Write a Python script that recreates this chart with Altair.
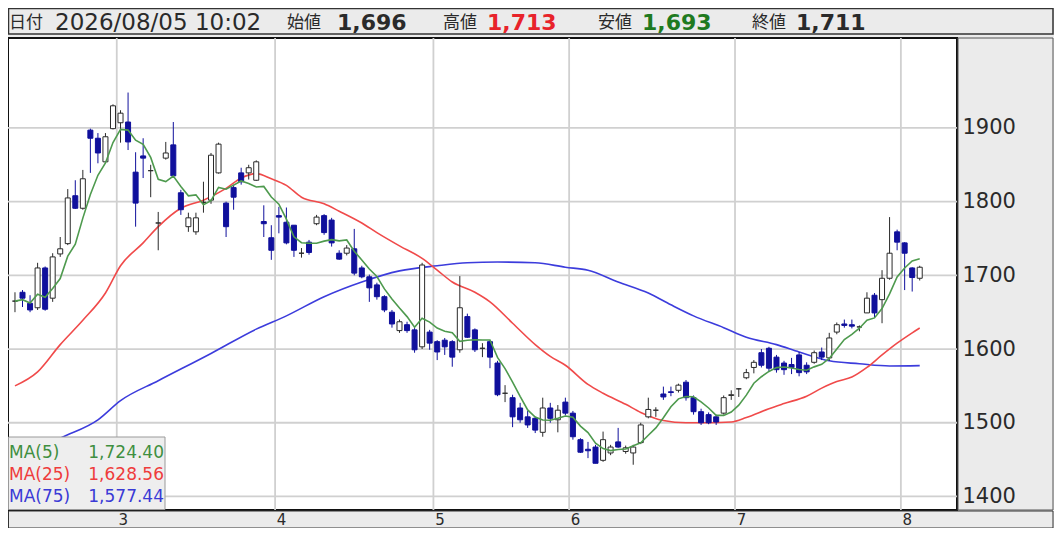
import json

import altair as alt
import numpy as np
import pandas as pd

alt.data_transformers.disable_max_rows()

# daily candles, 2026-02 (tail) .. 2026-08-05
opens = [
    1665, 1677, 1662, 1656, 1710, 1669, 1729, 1743, 1808, 1791,
    1897, 1886, 1854, 1899, 1907, 1908, 1840, 1862, 1842, 1771,
    1859, 1877, 1812, 1766, 1759, 1799, 1802, 1839, 1798, 1819,
    1839, 1839, 1829, 1773, 1751, 1781, 1772, 1768, 1730, 1745,
    1770, 1781, 1775, 1730, 1730, 1736, 1710, 1698, 1687, 1671,
    1650, 1625, 1633, 1626, 1603, 1623, 1610, 1612, 1610, 1599,
    1644, 1626, 1601, 1610, 1581, 1540, 1534, 1520, 1508, 1506,
    1487, 1520, 1504, 1528, 1513, 1477, 1464, 1467, 1449, 1459,
    1474, 1461, 1459, 1473, 1508, 1517, 1539, 1542, 1544, 1555,
    1534, 1515, 1511, 1508, 1513, 1537, 1546, 1561, 1575, 1595,
    1601, 1589, 1581, 1579, 1592, 1578, 1582, 1596, 1588, 1623,
    1634, 1633, 1630, 1649, 1673, 1667, 1696, 1759, 1744, 1710,
    1696,
]
highs = [
    1677, 1680, 1673, 1717, 1712, 1730, 1752, 1817, 1829, 1843,
    1899, 1893, 1893, 1932, 1924, 1948, 1867, 1886, 1850, 1786,
    1881, 1908, 1816, 1785, 1785, 1827, 1866, 1880, 1800, 1823,
    1846, 1850, 1856, 1795, 1768, 1793, 1792, 1768, 1737, 1748,
    1782, 1783, 1778, 1734, 1741, 1763, 1713, 1701, 1690, 1673,
    1653, 1640, 1637, 1629, 1717, 1626, 1612, 1615, 1612, 1699,
    1648, 1628, 1608, 1612, 1584, 1551, 1538, 1527, 1516, 1508,
    1534, 1527, 1524, 1534, 1516, 1479, 1474, 1470, 1488, 1470,
    1493, 1469, 1470, 1500, 1534, 1521, 1549, 1549, 1553, 1558,
    1537, 1519, 1514, 1511, 1537, 1544, 1547, 1573, 1585, 1600,
    1603, 1592, 1584, 1588, 1596, 1582, 1598, 1602, 1622, 1636,
    1640, 1640, 1632, 1677, 1676, 1707, 1779, 1762, 1745, 1711,
    1713,
]
lows = [
    1650, 1657, 1650, 1653, 1652, 1664, 1725, 1741, 1790, 1789,
    1839, 1852, 1852, 1898, 1880, 1870, 1766, 1832, 1806, 1734,
    1857, 1834, 1782, 1759, 1755, 1785, 1797, 1838, 1752, 1789,
    1823, 1830, 1828, 1752, 1721, 1757, 1742, 1725, 1724, 1728,
    1768, 1755, 1739, 1721, 1727, 1700, 1696, 1664, 1667, 1650,
    1629, 1622, 1622, 1595, 1600, 1599, 1585, 1592, 1576, 1595,
    1615, 1596, 1589, 1574, 1536, 1528, 1494, 1500, 1493, 1486,
    1481, 1500, 1487, 1510, 1477, 1459, 1452, 1445, 1447, 1456,
    1466, 1458, 1443, 1471, 1506, 1508, 1531, 1536, 1541, 1530,
    1511, 1497, 1498, 1497, 1511, 1531, 1535, 1559, 1567, 1575,
    1570, 1568, 1565, 1566, 1563, 1566, 1580, 1585, 1584, 1620,
    1629, 1628, 1624, 1649, 1643, 1635, 1694, 1734, 1680, 1678,
    1693,
]
closes = [
    1665, 1669, 1653, 1710, 1654, 1725, 1736, 1805, 1791, 1831,
    1886, 1866, 1888, 1930, 1920, 1881, 1798, 1859, 1842, 1771,
    1866, 1835, 1789, 1778, 1778, 1799, 1863, 1878, 1766, 1806,
    1827, 1846, 1854, 1770, 1734, 1779, 1744, 1734, 1730, 1731,
    1779, 1758, 1744, 1722, 1737, 1703, 1698, 1683, 1671, 1653,
    1634, 1637, 1625, 1599, 1714, 1608, 1596, 1603, 1589, 1656,
    1616, 1599, 1601, 1589, 1538, 1540, 1508, 1504, 1497, 1490,
    1520, 1506, 1517, 1513, 1481, 1460, 1462, 1445, 1477, 1467,
    1467, 1466, 1467, 1497, 1518, 1517, 1535, 1541, 1551, 1534,
    1515, 1500, 1500, 1501, 1534, 1538, 1546, 1568, 1582, 1578,
    1574, 1572, 1572, 1575, 1568, 1569, 1595, 1589, 1615, 1633,
    1632, 1631, 1630, 1669, 1649, 1696, 1730, 1745, 1730, 1697,
    1711,
]

# moving averages (candle index, price)
ma25_idx = [0, 3, 6, 9, 12, 14, 17, 19, 22, 25, 28, 30, 32, 34, 36, 38, 41, 43,
            46, 48, 51, 54, 56, 58, 61, 63, 66, 69, 71, 73, 76, 78, 81, 83, 86,
            89, 92, 95, 97, 100, 102, 105, 107, 109, 111, 113, 115, 117, 119, 120]
ma25_val = [1550, 1569, 1606, 1639, 1676, 1713, 1744, 1766, 1791, 1802, 1818,
            1832, 1838, 1831, 1822, 1806, 1797, 1787, 1771, 1758, 1740, 1723,
            1707, 1691, 1677, 1664, 1635, 1606, 1590, 1578, 1552, 1540, 1525,
            1514, 1503, 1500, 1500, 1501, 1507, 1519, 1526, 1536, 1547, 1556,
            1562, 1575, 1592, 1608, 1622, 1628.56]
ma75_idx = [0, 6, 11, 14, 19, 26, 32, 36, 41, 46, 51, 56, 60, 64, 69, 73, 76,
            80, 84, 87, 90, 94, 97, 101, 104, 108, 112, 116, 120]
ma75_val = [1445, 1479, 1504, 1530, 1557, 1594, 1627, 1645, 1671, 1691, 1706,
            1713, 1717, 1718, 1717, 1711, 1707, 1691, 1676, 1660, 1645, 1629,
            1616, 1606, 1596, 1584, 1580, 1577, 1577.44]

month_bounds = [13.5, 34.5, 55.5, 73.5, 95.5, 117.5]
month_labels = ["3", "4", "5", "6", "7", "8"]
price_ticks = [1400, 1500, 1600, 1700, 1800, 1900]

legend_names = ["MA(5)", "MA(25)", "MA(75)"]
legend_values = ["1,724.40", "1,628.56", "1,577.44"]

header_keys = ["日付", "始値", "高値", "安値", "終値"]
header_vals = ["2026/08/05 10:02", "1,696", "1,713", "1,693", "1,711"]

# --- styling / layout -------------------------------------------------------
BLUE = "#10109c"
INK = "#2a2a2a"
GREEN = "#4e9a4e"
RED = "#f04a4a"
MA_BLUE = "#3c3cdc"
PANEL = "#ebebeb"
GRID = "#d0d0d0"
NUM_FONT = "DejaVu Sans"
JP_FONT = "Noto Sans CJK JP"

W, H = 949, 472
TOP = 30
xs = alt.Scale(domain=[-0.262, 124.28], nice=False, zero=False)
ys = alt.Scale(domain=[1381.6, 2022], nice=False, zero=False)

df = pd.DataFrame({"i": np.arange(len(closes)), "open": opens, "high": highs,
                   "low": lows, "close": closes})
df["dir"] = np.where(df["close"] >= df["open"], "up", "down")

one = pd.DataFrame({"k": [0]})


def box(x, x2, y, y2, fill=None, stroke=None, sw=1.0):
    if fill is None:
        mark = alt.Chart(one).mark_rect(filled=False, stroke=stroke, strokeWidth=sw)
    else:
        kw = {"fill": fill}
        if stroke:
            kw.update(stroke=stroke, strokeWidth=sw)
        mark = alt.Chart(one).mark_rect(**kw)
    return mark.encode(x=alt.value(x), x2=alt.value(x2), y=alt.value(y), y2=alt.value(y2))


def label(text, x, y, color=INK, size=16, font=NUM_FONT, weight="normal",
          align="left"):
    return alt.Chart(one).mark_text(
        align=align, baseline="middle", font=font, fontSize=size,
        fontWeight=weight, color=color,
    ).encode(x=alt.value(x), y=alt.value(y), text=alt.value(text))


# the same axis spec goes on every layer so the merged axes stay enabled
x_axis = alt.Axis(
    values=month_bounds, grid=False, ticks=False, domain=False,
    labelExpr=f"{json.dumps(month_labels)}[indexof({json.dumps(month_bounds)}, datum.value)]",
    labelOffset=6, labelPadding=2, labelFontSize=15, labelFont=NUM_FONT,
    labelColor=INK, labelFlush=False, labelOverlap=False, title=None,
)
y_axis = alt.Axis(
    orient="right", values=price_ticks, format="d", grid=False, ticks=False,
    domain=False, labelFontSize=21, labelFont=NUM_FONT, labelColor=INK,
    labelPadding=5, labelAlign="left", title=None,
)


def X(field):
    return alt.X(field, scale=xs, axis=x_axis, title=None)


def Y(field):
    return alt.Y(field, scale=ys, axis=y_axis, title=None)


frames = [
    box(0.5, 1045, -TOP + 0.5, -4, None, "#333", 1.5),   # header bar
    box(0.5, 1045, H + 1, H + 18, None, "#333", 1),      # month strip
    box(W + 1, 1045, 0, H, None, "#555", 1),             # price panel
]

vgrid = alt.Chart(pd.DataFrame({"b": month_bounds})).mark_rule(
    color=GRID, strokeWidth=1.8
).encode(x=X("b:Q"))
hgrid = alt.Chart(pd.DataFrame({"p": price_ticks})).mark_rule(
    color=GRID, strokeWidth=1.8
).encode(y=Y("p:Q"))

dir_dom = ["up", "down"]

wick = alt.Chart(df).mark_rule(strokeWidth=1).encode(
    x=X("i:Q"),
    y=Y("low:Q"),
    y2="high:Q",
    color=alt.Color("dir:N", scale=alt.Scale(domain=dir_dom, range=[INK, BLUE]), legend=None),
)
body = alt.Chart(df).mark_bar(size=5, strokeWidth=1).encode(
    x=X("i:Q"),
    y=Y("open:Q"),
    y2="close:Q",
    fill=alt.Fill("dir:N", scale=alt.Scale(domain=dir_dom, range=["#ffffff", BLUE]), legend=None),
    stroke=alt.Stroke("dir:N", scale=alt.Scale(domain=dir_dom, range=[INK, BLUE]), legend=None),
)

ma5 = alt.Chart(df).transform_window(
    ma5="mean(close)", frame=[-4, 0], sort=[{"field": "i"}]
).mark_line(color=GREEN, strokeWidth=1.6).encode(x=X("i:Q"), y=Y("ma5:Q"))
ma25 = alt.Chart(pd.DataFrame({"i": ma25_idx, "v": ma25_val})).mark_line(
    color=RED, strokeWidth=1.6, interpolate="monotone"
).encode(x=X("i:Q"), y=Y("v:Q"))
ma75 = alt.Chart(pd.DataFrame({"i": ma75_idx, "v": ma75_val})).mark_line(
    color=MA_BLUE, strokeWidth=1.6, interpolate="monotone"
).encode(x=X("i:Q"), y=Y("v:Q"))

legend_layers = [box(0.5, 157, 399, H - 0.5, "#eeeeee", "#9a9a9a", 1)]
for k, (name, val, col) in enumerate(zip(legend_names, legend_values,
                                         ["#3f8f3f", "#ee3c3c", "#3a3ad6"])):
    yy = 415 + 22 * k
    legend_layers.append(label(name, 1, yy, col, 17))
    legend_layers.append(label(val, 156, yy, col, 17, align="right"))

key_x = [1, 279, 435, 590, 744]
val_x = [47, 329, 479, 634, 788]
val_col = [INK, INK, "#e8232a", "#1f7a1f", INK]
header_layers = []
for k, (key, val) in enumerate(zip(header_keys, header_vals)):
    header_layers.append(label(key, key_x[k], -15, INK, 17, JP_FONT))
    if k == 0:
        header_layers.append(label(val, val_x[k], -15.5, INK, 23))
    else:
        header_layers.append(label(val, val_x[k], -15.5, val_col[k], 22, weight="bold"))

chart = alt.layer(
    vgrid, hgrid, ma75, ma25, wick, body, ma5,
    *legend_layers, *frames, *header_layers,
).properties(
    width=W,
    height=H,
    padding={"left": 0, "top": TOP, "right": 97, "bottom": 18},
    autosize=alt.AutoSizeParams(type="none"),
    background=PANEL,
).configure_view(fill="white", stroke="#111111", strokeWidth=2)

chart.save("out.html", embed_options={"renderer": "svg", "actions": False})
